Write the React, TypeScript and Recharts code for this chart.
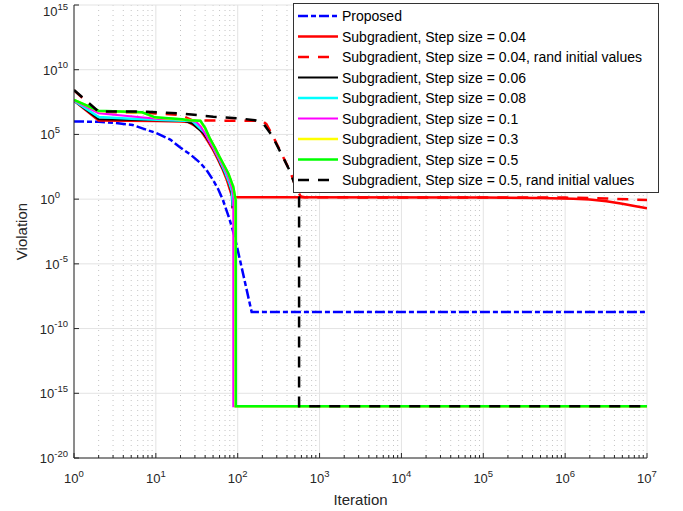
import React from 'react';
import { LineChart, Line, XAxis, YAxis, CartesianGrid, Legend, Label } from 'recharts';

type Pt = [number, number];

// ---------- ticks ----------
const xMajorTicks = [1, 10, 100, 1e3, 1e4, 1e5, 1e6, 1e7];
const xMinorMultipliers = [2, 3, 4, 5, 6, 7, 8, 9];
const xMinorTicks: number[] = [];
for (let d = 0; d < 7; d++) for (const m of xMinorMultipliers) xMinorTicks.push(m * Math.pow(10, d));
const xAllTicks = [...xMajorTicks, ...xMinorTicks].sort((a, b) => a - b);
const yMajorTicks = [1e-20, 1e-15, 1e-10, 1e-5, 1, 1e5, 1e10, 1e15];

// ---------- series data: [iteration, violation] ----------
const proposed: Pt[] = [
  [1, 1e6], [2, 9.5e5], [3, 8e5], [5.2, 5.4e5], [10, 1.3e5], [15, 4e4], [19.5, 1.07e4],
  [27, 2.5e3], [35, 620], [42, 160], [50, 30], [58, 5.6], [66, 0.85], [78, 0.04],
  [89, 2.5e-3], [100, 1.2e-4], [148, 1.9e-9], [1e7, 1.9e-9],
];
const sub004: Pt[] = [
  [1, 4e7], [2, 1.2e6], [10, 1.07e6], [20, 1e6], [25, 9e5], [29.5, 5e5], [35, 2.2e5],
  [42, 4e4], [50, 6.3e3], [57.5, 1.1e3], [66, 180], [74, 28], [80.5, 5.1], [84.3, 2.1],
  [91, 1.38], [1e5, 1.35], [5e5, 1.2], [1.26e6, 1.07], [2e6, 0.93], [3.2e6, 0.68],
  [5e6, 0.44], [7e6, 0.3], [1e7, 0.195],
];
const sub004rand: Pt[] = [
  [1, 2.5e8], [2, 5.2e6], [7, 5e6], [10, 4.2e6], [20, 3.2e6], [28, 1.2e6], [200, 1.12e6],
  [224, 6.3e5], [263, 1e5], [347, 2.8e3], [437, 141], [525, 5.6], [590, 1.58], [660, 1.38],
  [1e6, 1.32], [3.2e6, 1.12], [6.3e6, 0.95], [1e7, 0.85],
];
const sub006: Pt[] = [
  [1, 4e7], [2, 1.5e6], [22, 1.15e6], [28, 7e5], [38, 1.23e5], [45.7, 2.2e4], [55, 2.6e3],
  [63, 400], [73.3, 55], [79.4, 12.6], [84.3, 2.8], [86.1, 0.195],
];
const sub008: Pt[] = [
  [1, 4e7], [2, 2.2e6], [5, 1.6e6], [14.8, 1.26e6], [28, 1.07e6], [40, 1.26e5], [50, 1e4],
  [60, 1e3], [71, 100], [79.4, 16], [85, 4], [87, 0.3],
];
const sub01: Pt[] = [
  [1, 4e7], [2, 4.3e6], [6.5, 2.1e6], [11.2, 1.55e6], [19.5, 1.48e6], [31, 9.5e5],
  [35.5, 4e5], [41.7, 6.8e4], [50, 8.9e3], [57.5, 1.9e3], [66, 355], [73.3, 100],
  [84.1, 9.1], [88.3, 2], [88.3, 1e-16], [1e7, 1e-16],
];
const sub03: Pt[] = [
  [1, 4.6e7], [2, 6.5e6], [6.8, 5e6], [9.8, 2e6], [21, 1.45e6], [35, 1.1e6], [40, 3e5],
  [45.7, 4.7e4], [52.5, 9.5e3], [60, 1.8e3], [68.4, 380], [76.7, 95], [88.3, 8.7],
  [94, 0.85], [94.4, 1e-16], [1e7, 1e-16],
];
const sub05: Pt[] = [
  [1, 4.6e7], [2, 6.8e6], [6.8, 5.1e6], [9.8, 2.1e6], [21, 1.48e6], [25, 1.26e6],
  [35, 1.15e6], [40, 3.2e5], [45.7, 5e4], [52.5, 1e4], [60, 1.9e3], [68.4, 400],
  [76.7, 100], [88.3, 9.1], [94.4, 0.85], [94.8, 1e-16], [1e7, 1e-16],
];
const sub05rand: Pt[] = [
  [1, 2.7e8], [2, 5.8e6], [7, 5.8e6], [19.5, 4.3e6], [50, 2.3e6], [107, 1.7e6],
  [162, 1.26e6], [204, 7.2e5], [260, 9e4], [347, 2.6e3], [437, 132], [525, 5.1],
  [562, 1.5], [562, 1e-16], [1e7, 1e-16],
];

const seriesNames = [
  'Proposed',
  'Subgradient, Step size = 0.04',
  'Subgradient, Step size = 0.04, rand initial values',
  'Subgradient, Step size = 0.06',
  'Subgradient, Step size = 0.08',
  'Subgradient, Step size = 0.1',
  'Subgradient, Step size = 0.3',
  'Subgradient, Step size = 0.5',
  'Subgradient, Step size = 0.5, rand initial values',
];
const seriesData = [proposed, sub004, sub004rand, sub006, sub008, sub01, sub03, sub05, sub05rand];

// ---------- styles ----------
const seriesStyle = [
  { color: '#0000ff', width: 2.5, dash: '10 3 5 3' },
  { color: '#ff0000', width: 2.5, dash: undefined },
  { color: '#ff0000', width: 2.5, dash: '11 9' },
  { color: '#000000', width: 2, dash: undefined },
  { color: '#00ffff', width: 2.5, dash: undefined },
  { color: '#ff00ff', width: 2, dash: undefined },
  { color: '#ffff00', width: 2.5, dash: undefined },
  { color: '#00ff00', width: 2.5, dash: undefined },
  { color: '#000000', width: 2.5, dash: '11 9' },
];

const FONT = '"Liberation Sans", Arial, Helvetica, sans-serif';
const AXIS = '#262626';

const isMajor = (v: number) => Math.abs(Math.log10(v) - Math.round(Math.log10(v))) < 1e-9;

const XTickBottom = (props: any) => {
  const { x, y, payload } = props;
  const v = payload.value;
  const major = isMajor(v);
  const exp = Math.round(Math.log10(v));
  return (
    <g>
      <line x1={x} x2={x} y1={y} y2={y - (major ? 5 : 3)} stroke={AXIS} strokeWidth={1} />
      {major && (
        <text x={x} y={y + 25} textAnchor="middle" fontFamily={FONT} fontSize={13} fill={AXIS}>
          10<tspan dy={-6} fontSize={9.5}>{exp}</tspan>
        </text>
      )}
    </g>
  );
};

const XTickTop = (props: any) => {
  const { x, y, payload } = props;
  const major = isMajor(payload.value);
  return <line x1={x} x2={x} y1={y} y2={y + (major ? 5 : 3)} stroke={AXIS} strokeWidth={1} />;
};

const YTickLeft = (props: any) => {
  const { x, y, payload } = props;
  const exp = String(Math.round(Math.log10(payload.value)));
  const endX = x - (exp.length >= 2 ? 6 : 14);
  const baseY = Math.max(y + 5, 16);
  return (
    <g>
      <line x1={x} x2={x + 5} y1={y} y2={y} stroke={AXIS} strokeWidth={1} />
      <text x={endX} y={baseY} textAnchor="end" fontFamily={FONT} fontSize={13} fill={AXIS}>
        10<tspan dy={-6.5} fontSize={9.5}>{exp}</tspan>
      </text>
    </g>
  );
};

const YTickRight = (props: any) => {
  const { x, y } = props;
  return <line x1={x} x2={x - 5} y1={y} y2={y} stroke={AXIS} strokeWidth={1} />;
};

const LegendBox = () => (
  <svg width={366} height={190} style={{ display: 'block' }}>
    <rect x={0.5} y={0.5} width={365} height={189} fill="#ffffff" stroke="#333333" strokeWidth={1} />
    {seriesNames.map((name, i) => {
      const cy = 13 + i * 20.5;
      const st = seriesStyle[i];
      return (
        <g key={name}>
          <line x1={5} x2={45} y1={cy} y2={cy} stroke={st.color} strokeWidth={st.width} strokeDasharray={st.dash} />
          <text x={49} y={cy + 5} fontFamily={FONT} fontSize={14} fill="#000">{name}</text>
        </g>
      );
    })}
  </svg>
);

export default function App() {
  return (
    <div style={{ position: 'absolute', left: 0, top: 0 }}>
      <LineChart width={683} height={511} margin={{ top: 5, right: 36, left: 0, bottom: 0 }}>
        <CartesianGrid horizontal={false} verticalValues={xMinorTicks} stroke="#c4c4c4" strokeDasharray="1 4" />
        <CartesianGrid verticalValues={xMajorTicks} horizontalValues={yMajorTicks} stroke="#e3e3e3" />
        <XAxis
          dataKey="x"
          type="number"
          scale="log"
          domain={[1, 1e7]}
          ticks={xAllTicks}
          interval={0}
          allowDataOverflow
          height={53}
          tickSize={0}
          tickMargin={0}
          tickLine={false}
          axisLine={{ stroke: AXIS }}
          tick={<XTickBottom />}
        >
          <Label
            content={() => (
              <text x={360.5} y={505} textAnchor="middle" fontFamily={FONT} fontSize={15} fill={AXIS}>Iteration</text>
            )}
          />
        </XAxis>
        <XAxis
          xAxisId="top"
          orientation="top"
          dataKey="x"
          type="number"
          scale="log"
          domain={[1, 1e7]}
          ticks={xAllTicks}
          interval={0}
          allowDataOverflow
          height={0}
          tickSize={0}
          tickMargin={0}
          tickLine={false}
          axisLine={{ stroke: AXIS }}
          tick={<XTickTop />}
        />
        <YAxis
          type="number"
          scale="log"
          domain={[1e-20, 1e15]}
          ticks={yMajorTicks}
          interval={0}
          allowDataOverflow
          width={74}
          tickSize={0}
          tickMargin={0}
          tickLine={false}
          axisLine={{ stroke: AXIS }}
          tick={<YTickLeft />}
        >
          <Label
            content={() => (
              <text x={27} y={231.5} transform="rotate(-90 27 231.5)" textAnchor="middle" fontFamily={FONT} fontSize={15} fill={AXIS}>Violation</text>
            )}
          />
        </YAxis>
        <YAxis
          yAxisId="right"
          orientation="right"
          type="number"
          scale="log"
          domain={[1e-20, 1e15]}
          ticks={yMajorTicks}
          interval={0}
          allowDataOverflow
          width={0}
          tickSize={0}
          tickMargin={0}
          tickLine={false}
          axisLine={{ stroke: AXIS }}
          tick={<YTickRight />}
        />
        {seriesData.map((d, i) => (
          <Line
            key={seriesNames[i]}
            name={seriesNames[i]}
            data={d.map(([x, y]) => ({ x, y }))}
            dataKey="y"
            type="linear"
            stroke={seriesStyle[i].color}
            strokeWidth={seriesStyle[i].width}
            strokeDasharray={seriesStyle[i].dash}
            dot={false}
            activeDot={false}
            isAnimationActive={false}
          />
        ))}
        <Legend
          layout="vertical"
          align="center"
          verticalAlign="middle"
          wrapperStyle={{ left: 293, top: 3, width: 366, height: 190 }}
          content={() => <LegendBox />}
        />
      </LineChart>
    </div>
  );
}
